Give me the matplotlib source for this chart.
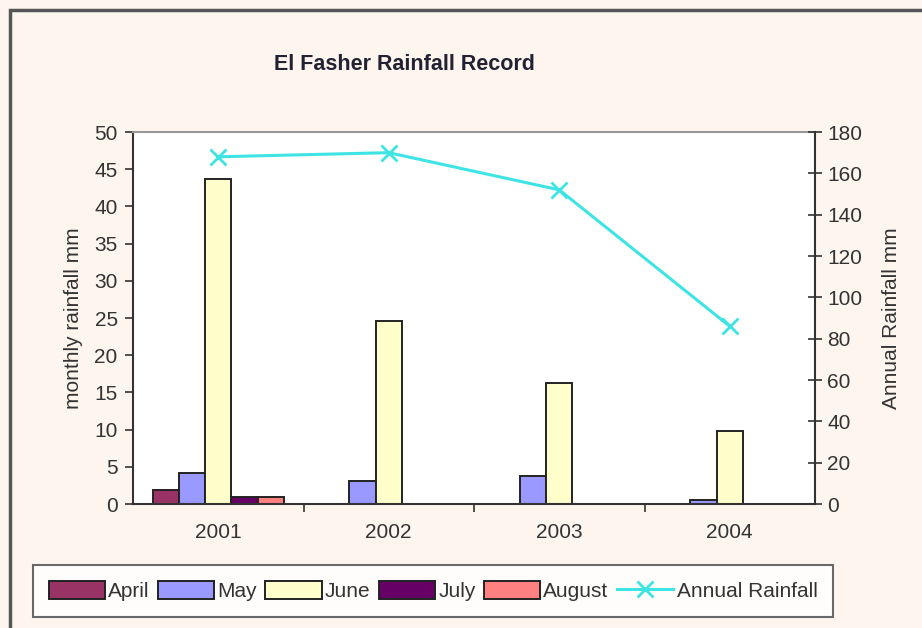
import numpy as np
import matplotlib
matplotlib.use("Agg")
import matplotlib.pyplot as plt
from matplotlib.patches import Rectangle

plt.rcParams['font.family'] = ['Liberation Sans', 'DejaVu Sans']

# Data
years = ["2001", "2002", "2003", "2004"]
months = ["April", "May", "June", "July", "August"]
april = [1.9, 0.0, 0.0, 0.0]
may = [4.2, 3.1, 3.8, 0.6]
june = [43.7, 24.6, 16.3, 9.8]
july = [0.9, 0.0, 0.0, 0.0]
august = [1.0, 0.0, 0.0, 0.0]
annual = [168, 170, 152, 86]

monthly = [april, may, june, july, august]
month_colors = ["#993366", "#9999FF", "#FFFFCC", "#660066", "#FF8080"]
line_color = "#3EE4E4"

W, H = 922, 628
fig = plt.figure(figsize=(W / 100, H / 100), dpi=100)
fig.patch.set_facecolor("#FEF6EE")

# outer frame
fig.add_artist(Rectangle((10 / W, -0.05), 1.2, 1 - 10 / H + 0.05,
                         transform=fig.transFigure, fill=False,
                         edgecolor="#555555", linewidth=2.5))

ax = fig.add_axes([133 / W, 1 - 504 / H, 682 / W, 372 / H])
ax.set_facecolor("white")

x = np.arange(len(years))
n = len(months)
bw = 1.0 / (n + 1.5)
handles = []
for i, (name, vals, col) in enumerate(zip(months, monthly, month_colors)):
    offs = (i - (n - 1) / 2) * bw
    b = ax.bar(x + offs, vals, width=bw, color=col, edgecolor="#222222",
               linewidth=1.4, label=name, zorder=2)
    handles.append(b)

ax.set_xlim(-0.5, len(years) - 0.5)
ax.set_ylim(0, 50)
ax.set_yticks(np.arange(0, 51, 5))
ax.set_xticks(x)
ax.set_xticklabels(years)
ax.set_xticks(np.arange(0.5, len(years) - 0.5, 1), minor=True)
ax.tick_params(axis="x", which="major", length=0, pad=14, labelsize=15)
ax.tick_params(axis="x", which="minor", length=6, width=1.2, color="#333333",
               direction="out")
ax.tick_params(axis="y", length=6, width=1.2, color="#333333", labelsize=15,
               direction="out", pad=5)
ax.set_ylabel("monthly rainfall mm", fontsize=15, color="#333333", labelpad=8)

ax.spines["left"].set_color("#333333")
ax.spines["left"].set_linewidth(1.5)
ax.spines["bottom"].set_color("#333333")
ax.spines["bottom"].set_linewidth(1.5)
ax.spines["top"].set_color("#999999")
ax.spines["top"].set_linewidth(1.5)
ax.spines["right"].set_visible(False)

ax2 = ax.twinx()
ln, = ax2.plot(x, annual, color=line_color, linewidth=2.2, marker="x",
               markersize=11, markeredgewidth=2, label="Annual Rainfall",
               zorder=3)
ax2.set_ylim(0, 180)
ax2.set_yticks(np.arange(0, 181, 20))
ax2.tick_params(axis="y", length=10, width=1.2, color="#333333", labelsize=15,
                direction="inout", pad=4)
ax2.set_ylabel("Annual Rainfall mm", fontsize=15, color="#333333", labelpad=14)
ax2.spines["right"].set_color("#333333")
ax2.spines["right"].set_linewidth(1.5)
for s in ["top", "left", "bottom"]:
    ax2.spines[s].set_visible(False)

for a in (ax, ax2):
    for lab in a.get_yticklabels() + a.get_xticklabels():
        lab.set_color("#333333")

fig.text(404 / W, 1 - 65 / H, "El Fasher Rainfall Record", ha="center",
         va="center", fontsize=15.5, fontweight="bold", color="#222233")

leg = fig.legend(handles + [ln], months + ["Annual Rainfall"], ncol=6,
                 loc="center", bbox_to_anchor=(33 / W, 1 - 617 / H, 800 / W, 52 / H),
                 mode="expand", borderaxespad=0, fontsize=15, handlelength=2.7,
                 handleheight=0.95, handletextpad=0.15, columnspacing=0.4,
                 borderpad=0.75, frameon=True, fancybox=False)
leg.get_frame().set_edgecolor("#444444")
leg.get_frame().set_linewidth(1.5)
leg.get_frame().set_facecolor("white")
for t in leg.get_texts():
    t.set_color("#333333")

fig.savefig("out.png", dpi=100, facecolor=fig.get_facecolor())
